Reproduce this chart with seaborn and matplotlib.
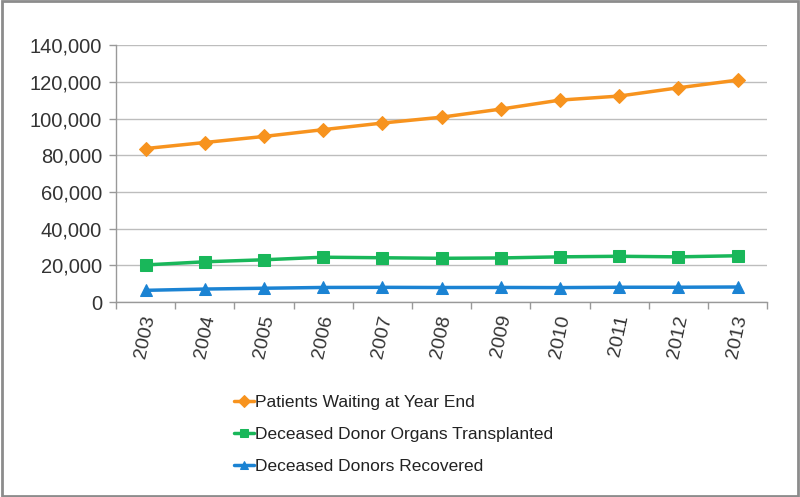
import numpy as np
import pandas as pd
import matplotlib.pyplot as plt
import seaborn as sns
from matplotlib.patches import Rectangle
from matplotlib.ticker import FuncFormatter, MultipleLocator

years = ["2003", "2004", "2005", "2006", "2007", "2008", "2009", "2010", "2011", "2012", "2013"]
waiting = [83700, 87000, 90300, 94000, 97600, 100800, 105200, 110100, 112300, 116800, 121000]
transplanted = [20300, 22000, 23100, 24500, 24200, 23900, 24100, 24700, 25000, 24700, 25300]
recovered = [6450, 7150, 7590, 8020, 8090, 7990, 8020, 7940, 8130, 8140, 8270]

series_names = ["Patients Waiting at Year End", "Deceased Donor Organs Transplanted", "Deceased Donors Recovered"]
colors = ["#F7931E", "#19B75A", "#1B83D3"]
markers = ["D", "s", "^"]
sizes = [7, 8, 8]

sns.set_style("white")
plt.rcParams["font.family"] = ["Liberation Sans", "DejaVu Sans"]

fig = plt.figure(figsize=(8, 4.97), dpi=100)
ax = fig.add_axes([0.145, 0.392, 0.814, 0.517])

x = np.arange(len(years))
for name, vals, c, m, s in zip(series_names, [waiting, transplanted, recovered], colors, markers, sizes):
    sns.lineplot(x=x, y=vals, ax=ax, color=c, marker=m, markersize=s,
                 markeredgecolor=c, linewidth=2.5, label=name)

ax.set_xlim(-0.5, len(years) - 0.5)
ax.set_ylim(0, 140000)
ax.yaxis.set_major_locator(MultipleLocator(20000))
ax.yaxis.set_major_formatter(FuncFormatter(lambda v, p: f"{int(v):,}"))
ax.grid(axis="y", color="#bdbdbd", linewidth=1)
ax.set_axisbelow(True)

ax.set_xticks(x)
ax.set_xticklabels(years, rotation=78, ha="center", va="top")
ax.set_xticks(np.arange(-0.5, len(years)), minor=True)
ax.tick_params(axis="x", which="major", length=0, pad=8, labelsize=14, colors="#333333")
ax.tick_params(axis="x", which="minor", length=5, color="#999999", width=1, direction="out", bottom=True)
ax.tick_params(axis="y", length=5, color="#999999", width=1, labelsize=14.5, colors="#333333", left=True, pad=5)

for side in ["top", "right"]:
    ax.spines[side].set_visible(False)
for side in ["left", "bottom"]:
    ax.spines[side].set_color("#999999")
    ax.spines[side].set_linewidth(1)

leg = ax.legend(loc="upper left", bbox_to_anchor=(0.17, -0.335), frameon=False,
                fontsize=12.5, handlelength=1.2, handletextpad=0.05, labelspacing=0.95,
                borderaxespad=0)
for t in leg.get_texts():
    t.set_color("#222222")
for h in leg.legend_handles:
    h.set_markersize(6)

fig.patches.append(Rectangle((0.002, 0.003), 0.996, 0.994, transform=fig.transFigure,
                             fill=False, edgecolor="#8c8c8c", linewidth=2))

fig.savefig("out.png", dpi=100)
